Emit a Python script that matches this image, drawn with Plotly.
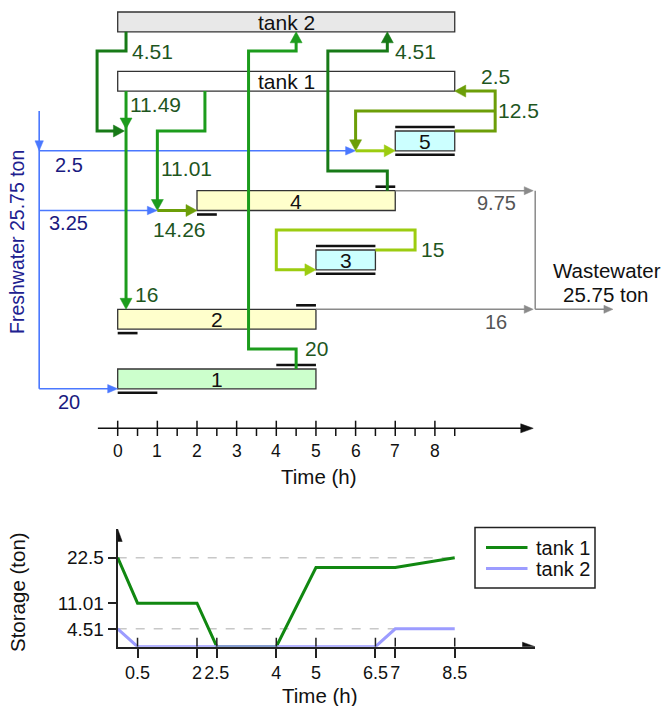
import plotly.graph_objects as go

# ===================== data =====================
op_labels = ['1', '2', '3', '4', '5']
op_start = [0, 0, 5, 2, 7]
op_end = [5, 5, 6.5, 7, 8.5]
op_fill_end = [1, 0.5, 6.5, 2.5, 8.5]        # filling window (black line under the bar)
op_drain_start = [4, 4.5, 5, 6.5, 7]         # emptying window (black line over the bar)
tank_labels = ['tank 2', 'tank 1']
tank_start = [0, 0]
tank_end = [8.5, 8.5]

freshwater_flows = [2.5, 3.25, 20]            # to op 5, op 4, op 1
freshwater_total = 25.75
wastewater_flows = [9.75, 16]                 # from op 4, op 2
wastewater_total = 25.75
t2_to_op2 = 4.51
t1_to_op2 = 11.49
op2_inflow = 16
t1_to_op4 = 11.01
op4_inflow = 14.26
op1_to_tank = 20
op4_to_t2 = 4.51
op5_to_t1 = 2.5
op5_recycle = 12.5
op3_recycle = 15

time_major = [0, 1, 2, 3, 4, 5, 6, 7, 8]
time_minor = [0.5, 1.5, 2.5, 3.5, 4.5, 5.5, 6.5, 7.5, 8.5]

storage_names = ['tank 1', 'tank 2']
storage_time_t1 = [0, 0.5, 2, 2.5, 4, 5, 7, 8.5]
storage_t1 = [22.5, 11.01, 11.01, 0, 0, 20, 20, 22.5]
storage_time_t2 = [0, 0.5, 6.5, 7, 8.5]
storage_t2 = [4.51, 0, 0, 4.51, 4.51]
storage_xticks = [0.5, 2, 2.5, 4, 5, 6.5, 7, 8.5]
storage_yticks = [4.51, 11.01, 22.5]
storage_grid = [4.51, 22.5]

# ===================== layout constants =====================
W_PX, H_PX = 664, 706
X0 = 117.7          # pixel of t = 0
SX = 39.65          # px per hour
SY2 = 3.956         # px per ton (storage chart)
FONT = 'Liberation Sans'

ROW_TOP = {'tank 2': 12, 'tank 1': 71.3, '5': 131, '4': 190.7, '3': 250, '2': 309.3, '1': 369}
BAR_H = 19.8
FILL = {'tank 2': '#e8e8e8', 'tank 1': '#ffffff', '1': '#ccffcc', '2': '#ffffcc',
        '3': '#ccffff', '4': '#ffffcc', '5': '#ccffff'}

C_DARK = '#177a17'
C_GREEN = '#1c9c1c'
C_OLIVE = '#6c9e08'
C_LIGHT = '#9ccc10'
C_BLUE = '#4a78ff'
C_GRAY = '#8a8a8a'
C_LBL_G = '#1e561e'
C_LBL_B = '#1a1a80'
C_LBL_GRAY = '#555555'
STORAGE_COLORS = ['#118811', '#9c9cff']


def top(name):
    return ROW_TOP[name]


def bot(name):
    return ROW_TOP[name] + BAR_H


def fmt(v):
    return f'{v:g}'


shapes = []
annots = []
DIRS = {'right': (1, 0), 'left': (-1, 0), 'down': (0, 1), 'up': (0, -1)}


def seg_path(pts):
    return 'M' + 'L'.join(f'{x:.5f},{y:.5f}' for x, y in pts)


def tri(tip, d, color, L, W, xref='x', yref='y', sx=SX, sy=1.0):
    dx, dy = DIRS[d]
    bx = tip[0] - L * dx / sx
    by = tip[1] - L * dy / sy
    px_, py_ = -dy, dx
    c1 = (bx + W * px_ / sx, by + W * py_ / sy)
    c2 = (bx - W * px_ / sx, by - W * py_ / sy)
    shapes.append(dict(type='path', path=seg_path([tip, c1, c2]) + 'Z', xref=xref, yref=yref,
                       fillcolor=color, line=dict(color=color, width=0.5), layer='above'))


def line(pts, color, width, head=None, L=11, W=6, xref='x', yref='y'):
    pts = list(pts)
    tip = pts[-1]
    if head:
        dx, dy = DIRS[head]
        pts[-1] = (tip[0] - (L - 2) * dx / SX, tip[1] - (L - 2) * dy)
    shapes.append(dict(type='path', path=seg_path(pts), xref=xref, yref=yref,
                       line=dict(color=color, width=width), layer='above'))
    if head:
        tri(tip, head, color, L, W)


def text(x, y, s, color='#111111', size=21, **kw):
    annots.append(dict(x=x, y=y, xref='x', yref='y', text=s, showarrow=False,
                       font=dict(family=FONT, size=size, color=color),
                       xanchor='center', yanchor='middle', **kw))


def ptext(xp, yp, s, size, color='#111111', xanchor='center', **kw):
    annots.append(dict(x=xp / W_PX, y=1 - yp / H_PX, xref='paper', yref='paper', text=s,
                       showarrow=False, font=dict(family=FONT, size=size, color=color),
                       xanchor=xanchor, yanchor='middle', **kw))


# ---------- bars ----------
for name, s, e in zip(tank_labels, tank_start, tank_end):
    shapes.append(dict(type='rect', x0=s, x1=e, y0=top(name), y1=bot(name), xref='x', yref='y',
                       fillcolor=FILL[name], line=dict(color='#333333', width=1.3), layer='above'))
    text((s + e) / 2, (top(name) + bot(name)) / 2 + 0.5, name)

for name, s, e, fe, ds in zip(op_labels, op_start, op_end, op_fill_end, op_drain_start):
    shapes.append(dict(type='rect', x0=s, x1=e, y0=top(name), y1=bot(name), xref='x', yref='y',
                       fillcolor=FILL[name], line=dict(color='#333333', width=1.3), layer='above'))
    text((s + e) / 2, (top(name) + bot(name)) / 2 + 0.5, name)
    shapes.append(dict(type='line', x0=s, x1=fe, y0=bot(name) + 4, y1=bot(name) + 4, xref='x', yref='y',
                       line=dict(color='#111111', width=2.6), layer='above'))
    shapes.append(dict(type='line', x0=ds, x1=e, y0=top(name) - 4, y1=top(name) - 4, xref='x', yref='y',
                       line=dict(color='#111111', width=2.6), layer='above'))

# ---------- freshwater (blue) ----------
BLUE_X = -1.98
line([(BLUE_X, 111), (BLUE_X, bot('1'))], C_BLUE, 1.6)
tri((BLUE_X, bot('5')), 'down', C_BLUE, 10, 4.2)
fw_targets = [(6.0, bot('5')), (1.0, bot('4')), (0.0, bot('1'))]
for (tx, ty) in fw_targets:
    line([(BLUE_X, ty), (tx, ty)], C_BLUE, 1.6, head='right', L=10, W=4.2)
fw_label_y = [164.5, 223, 401.5]
for v, ly in zip(freshwater_flows, fw_label_y):
    text(-1.235, ly, fmt(v), C_LBL_B, 20)
ptext(17, 242, f'Freshwater {fmt(freshwater_total)} ton', 19.5, '#20208f', textangle=-90)

# ---------- wastewater (gray) ----------
WW_X = 10.53
line([(op_end[3], top('4')), (WW_X - 0.05, top('4'))], C_GRAY, 1.5, head='right', L=9, W=4)
line([(op_end[1], top('2')), (WW_X - 0.05, top('2'))], C_GRAY, 1.5, head='right', L=9, W=4)
line([(WW_X, top('4')), (WW_X, top('2'))], C_GRAY, 1.5)
line([(WW_X, top('2')), (12.49, top('2'))], C_GRAY, 1.5, head='right', L=9, W=4)
text(9.55, 202.5, fmt(wastewater_flows[0]), C_LBL_GRAY, 20)
text(9.54, 321.5, fmt(wastewater_flows[1]), C_LBL_GRAY, 20)
text(12.33, 270.5, 'Wastewater', '#111111', 20.5)
text(12.32, 294, f'{fmt(wastewater_total)} ton', '#111111', 20.5)

# ---------- reuse flows ----------
A_X = 0.21
TOP_RUN_Y = 51
JUNC_Y = 131
# tank 2 -> op 2
line([(A_X, bot('tank 2')), (A_X, TOP_RUN_Y), (-0.52, TOP_RUN_Y), (-0.52, JUNC_Y), (A_X - 1.6 / SX, JUNC_Y)],
     C_DARK, 3, head='right')
text(0.89, 51, fmt(t2_to_op2), C_LBL_G)
# tank 1 -> op 2
line([(A_X, bot('tank 1')), (A_X, top('2'))], C_GREEN, 3, head='down')
tri((A_X, 129), 'down', C_GREEN, 11, 6)
text(0.95, 104, fmt(t1_to_op2), C_LBL_G)
text(0.72, 294, fmt(op2_inflow), C_LBL_G)
# tank 1 -> op 4
line([(2.2, bot('tank 1')), (2.2, JUNC_Y), (1.0, JUNC_Y), (1.0, bot('4'))], C_GREEN, 3, head='down')
text(1.74, 168.5, fmt(t1_to_op4), C_LBL_G)
line([(1.0, bot('4')), (op_start[3], bot('4'))], C_OLIVE, 3, head='right')
text(1.56, 229, fmt(op4_inflow), C_LBL_G)
# op 1 -> tank
line([(4.5, top('1')), (4.5, 349), (3.3, 349), (3.3, TOP_RUN_Y), (4.5, TOP_RUN_Y), (4.5, bot('tank 2'))],
     C_GREEN, 3, head='up')
text(5.01, 348, fmt(op1_to_tank), C_LBL_G)
# op 4 -> tank 2
line([(6.8, top('4')), (6.8, 171), (5.3, 171), (5.3, TOP_RUN_Y), (6.8, TOP_RUN_Y), (6.8, bot('tank 2'))],
     C_DARK, 3, head='up')
text(7.52, 51, fmt(op4_to_t2), C_LBL_G)
# op 5 -> tank 1 and recycle
G_X = 9.52
line([(op_end[4], top('5')), (G_X, top('5')), (G_X, bot('tank 1')), (tank_end[1], bot('tank 1'))],
     C_OLIVE, 3, head='left')
line([(G_X, 111), (6.0, 111), (6.0, bot('5'))], C_OLIVE, 3, head='down')
line([(6.0, bot('5')), (op_start[4], bot('5'))], C_LIGHT, 3, head='right')
text(9.52, 76, fmt(op5_to_t1), C_LBL_G)
text(10.11, 110, fmt(op5_recycle), C_LBL_G)
# op 3 recycle
line([(op_end[2], top('3')), (7.5, top('3')), (7.5, 230), (4.0, 230), (4.0, bot('3')), (op_start[2], bot('3'))],
     C_LIGHT, 3, head='right')
text(7.94, 249, fmt(op3_recycle), C_LBL_G)

# ---------- time axis of the schedule ----------
AX_Y = 428.3
line([(-0.5, AX_Y), (10.48, AX_Y)], '#111111', 1.5, head='right', L=12.5, W=4.5)
for t in time_major:
    shapes.append(dict(type='line', x0=t, x1=t, y0=420.7, y1=436, xref='x', yref='y',
                       line=dict(color='#111111', width=1.5), layer='above'))
    text(t, 451, fmt(t), '#111111', 17.5)
for t in time_minor:
    shapes.append(dict(type='line', x0=t, x1=t, y0=AX_Y, y1=436, xref='x', yref='y',
                       line=dict(color='#111111', width=1.5), layer='above'))
text(5.08, 476, 'Time (h)', '#111111', 20.5)

# ---------- storage chart decorations ----------
X2_MAX = (535 - X0) / SX
Y2_MAX = (646.7 - 529) / SY2
for g in storage_grid:
    shapes.append(dict(type='line', x0=0, x1=8.5, y0=g, y1=g, xref='x2', yref='y2',
                       line=dict(color='#c8c8c8', width=1.5, dash='dash'), layer='below'))
for t in storage_xticks:
    shapes.append(dict(type='line', x0=t, x1=t, y0=0, y1=9 / SY2, xref='x2', yref='y2',
                       line=dict(color='#222222', width=1.5), layer='above'))
tri((X2_MAX, 0), 'right', '#111111', 12.5, 4.5, xref='x2', yref='y2', sx=SX, sy=-SY2)
tri((0, Y2_MAX), 'up', '#111111', 12.5, 4.5, xref='x2', yref='y2', sx=SX, sy=-SY2)
ptext(319.5, 695, 'Time (h)', 20.5)
ptext(17, 592, 'Storage (ton)', 20.5, textangle=-90)

# legend box (drawn in page pixels)
LEG_X0, LEG_X1, LEG_Y0, LEG_Y1 = 475, 595, 527.5, 588
shapes.append(dict(type='rect', xref='paper', yref='paper', x0=LEG_X0 / W_PX, x1=LEG_X1 / W_PX,
                   y0=1 - LEG_Y1 / H_PX, y1=1 - LEG_Y0 / H_PX, fillcolor='white',
                   line=dict(color='#222222', width=1.5), layer='above'))
for i, (nm, col) in enumerate(zip(storage_names, STORAGE_COLORS)):
    ly = 547.5 + 21 * i
    shapes.append(dict(type='line', xref='paper', yref='paper', x0=486 / W_PX, x1=527.5 / W_PX,
                       y0=1 - ly / H_PX, y1=1 - ly / H_PX, line=dict(color=col, width=3), layer='above'))
    ptext(534, ly, nm, 20, xanchor='left')

# ===================== figure =====================
fig = go.Figure()
fig.add_trace(go.Scatter(x=[None], y=[None], xaxis='x', yaxis='y', showlegend=False, hoverinfo='skip'))
fig.add_trace(go.Scatter(x=storage_time_t1, y=storage_t1, mode='lines', name=storage_names[0],
                         line=dict(color=STORAGE_COLORS[0], width=3), xaxis='x2', yaxis='y2',
                         showlegend=False))
fig.add_trace(go.Scatter(x=storage_time_t2, y=storage_t2, mode='lines', name=storage_names[1],
                         line=dict(color=STORAGE_COLORS[1], width=3), xaxis='x2', yaxis='y2',
                         showlegend=False))

fig.update_layout(
    width=W_PX, height=H_PX, margin=dict(l=0, r=0, t=0, b=0),
    paper_bgcolor='white', plot_bgcolor='rgba(0,0,0,0)', showlegend=False,
    xaxis=dict(domain=[0, 1], range=[-X0 / SX, (W_PX - X0) / SX], visible=False, anchor='y', fixedrange=True),
    yaxis=dict(domain=[0, 1], range=[H_PX, 0], visible=False, anchor='x', fixedrange=True),
    xaxis2=dict(domain=[X0 / W_PX, 535 / W_PX], range=[0, X2_MAX], anchor='y2',
                showline=True, linecolor='#222222', linewidth=2, showgrid=False, zeroline=False,
                tickvals=storage_xticks, ticktext=[fmt(v) for v in storage_xticks], tickangle=0,
                ticks='outside', ticklen=9, tickwidth=1.5, tickcolor='#222222',
                tickfont=dict(family=FONT, size=18, color='#111111'), fixedrange=True),
    yaxis2=dict(domain=[1 - 646.7 / H_PX, 1 - 529 / H_PX], range=[0, Y2_MAX], anchor='x2',
                showline=True, linecolor='#222222', linewidth=2, showgrid=False, zeroline=False,
                tickvals=storage_yticks, ticktext=[fmt(v) for v in storage_yticks],
                ticks='outside', ticklen=8, tickwidth=1.5, tickcolor='#222222',
                tickfont=dict(family=FONT, size=19, color='#111111'), fixedrange=True),
    shapes=shapes, annotations=annots,
)

fig.write_html('out.html')
